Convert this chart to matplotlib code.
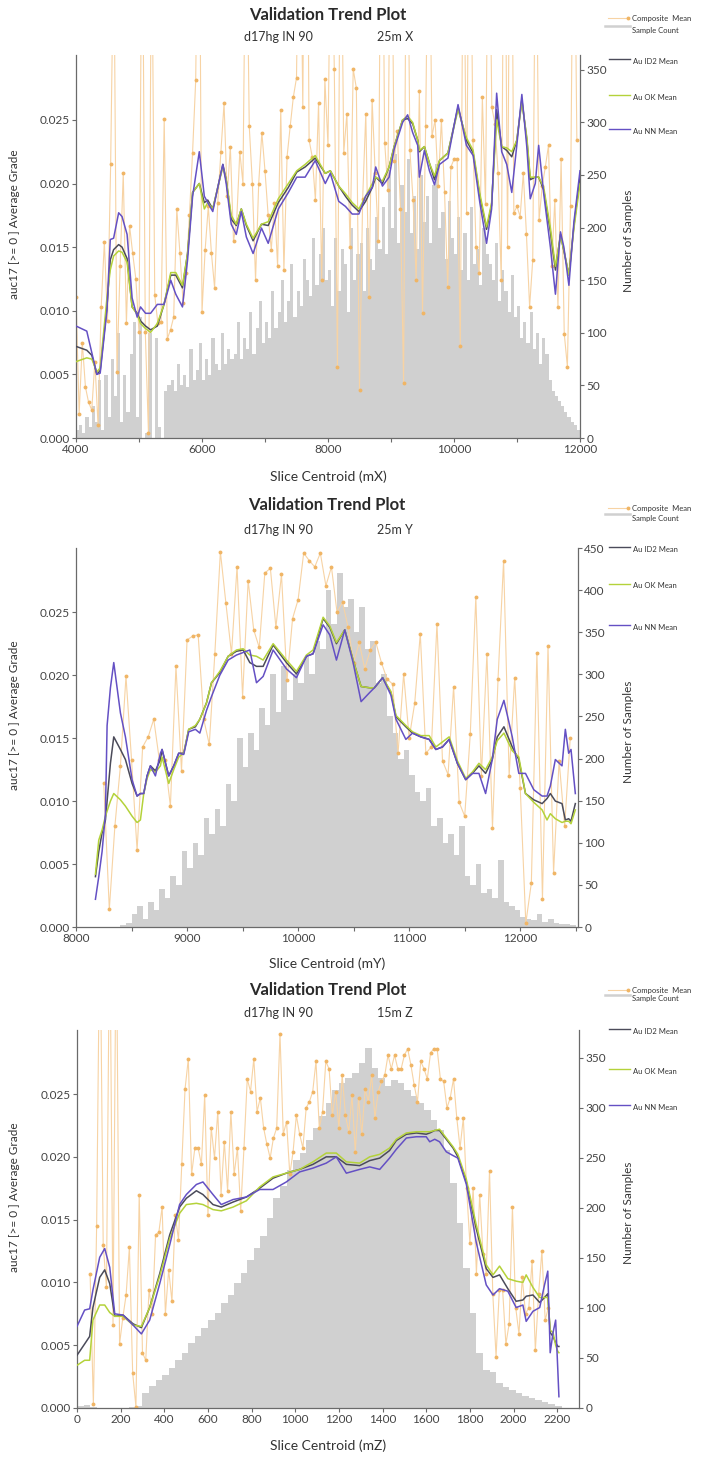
import numpy as np
import matplotlib
matplotlib.use("Agg")
import matplotlib.pyplot as plt
from matplotlib.lines import Line2D
from matplotlib.ticker import FormatStrFormatter, MultipleLocator

plt.rcParams['font.family'] = ['Lato', 'DejaVu Sans']

W, H = 706, 1457

# ---------------- Panel 1 (X) ----------------
p1_hist_start, p1_hist_step = 4000, 50
p1_hist = [8, 12, 5, 20, 10, 30, 15, 55, 8, 60,
           20, 75, 40, 100, 15, 60, 25, 80, 110, 20,
           115, 0, 5, 100, 0, 95, 10, 0, 45, 50,
           55, 45, 70, 50, 60, 48, 85, 55, 65, 90,
           55, 75, 60, 95, 70, 65, 100, 70, 85, 75,
           80, 110, 75, 95, 85, 120, 80, 105, 130, 90,
           110, 95, 140, 105, 120, 150, 110, 130, 165, 115,
           140, 125, 170, 150, 135, 190, 145, 175, 200, 150,
           160, 125, 190, 140, 180, 165, 120, 200, 150, 175,
           185, 140, 200, 170, 160, 210, 180, 220, 175, 255,
           200, 270, 185, 240, 215, 265, 195, 230, 180, 250,
           205, 230, 185, 240, 260, 200, 215, 170, 225, 190,
           175, 210, 160, 195, 150, 220, 165, 180, 145, 200,
           175, 165, 150, 185, 130, 160, 140, 120, 155, 115,
           125, 95, 110, 90, 120, 85, 100, 70, 95, 80,
           55, 45, 40, 35, 30, 25, 20, 15, 12, 8]
p1_comp_start, p1_comp_step = 4000, 50
p1_comp = [0.0111, 0.0019, 0.0075, 0.0040, 0.0028, 0.0022, 0.0060, 0.0010, 0.0103, 0.0154,
           0.0092, 0.0215, 0.0400, 0.0052, 0.0135, 0.0208, 0.0090, 0.0167, 0.0145, 0.0125,
           0.0083, 0.0450, 0.0083, 0.0004, 0.0420, 0.0112, 0.0090, 0.0091, 0.0251, 0.0078,
           0.0085, 0.0095, 0.0180, 0.0145, 0.0106, 0.0130, 0.0175, 0.0224, 0.0281, 0.0500,
           0.0099, 0.0148, 0.0182, 0.0145, 0.0118, 0.0185, 0.0225, 0.0263, 0.0190, 0.0229,
           0.0155, 0.0170, 0.0225, 0.0200, 0.0450, 0.0245, 0.0200, 0.0124, 0.0200, 0.0240,
           0.0210, 0.0175, 0.0148, 0.0185, 0.0135, 0.0258, 0.0132, 0.0221, 0.0245, 0.0268,
           0.0283, 0.0480, 0.0260, 0.0600, 0.0234, 0.0221, 0.0187, 0.0263, 0.0124, 0.0282,
           0.0230, 0.0440, 0.0290, 0.0056, 0.0460, 0.0224, 0.0255, 0.0150, 0.0290, 0.0275,
           0.0038, 0.0188, 0.0255, 0.0111, 0.0266, 0.0208, 0.0155, 0.0520, 0.0232, 0.0195,
           0.0470, 0.0218, 0.0241, 0.0180, 0.0043, 0.0500, 0.0226, 0.0187, 0.0124, 0.0273,
           0.0098, 0.0245, 0.0460, 0.0237, 0.0250, 0.0198, 0.0250, 0.0193, 0.0119, 0.0213,
           0.0219, 0.0219, 0.0072, 0.0440, 0.0177, 0.0500, 0.0234, 0.0150, 0.0130, 0.0268,
           0.0184, 0.0470, 0.0260, 0.0247, 0.0208, 0.0124, 0.0500, 0.0150, 0.0550, 0.0177,
           0.0182, 0.0174, 0.0208, 0.0160, 0.0103, 0.0140, 0.0450, 0.0171, 0.0198, 0.0213,
           0.0230, 0.0135, 0.0187, 0.0103, 0.0219, 0.0082, 0.0056, 0.0182, 0.0480, 0.0234]
p1_lx = [4000, 4171, 4251, 4331, 4384, 4491, 4544, 4597, 4677, 4731, 4811, 4891, 4971, 5024,
         5104, 5184, 5291, 5397, 5504, 5584, 5690, 5771, 5851, 5957, 6037, 6091, 6171, 6251,
         6331, 6384, 6464, 6544, 6624, 6704, 6811, 6944, 7051, 7211, 7371, 7504, 7637, 7797,
         7957, 8037, 8170, 8277, 8384, 8490, 8597, 8704, 8757, 8864, 8970, 9050, 9184, 9264,
         9344, 9424, 9450, 9530, 9610, 9690, 9770, 9904, 10064, 10197, 10304, 10410, 10517,
         10597, 10677, 10757, 10837, 10917, 10997, 11077, 11157, 11210, 11290, 11344, 11424,
         11530, 11610, 11690, 11744, 11824, 11904, 12000]
p1_id2 = [.0072, .0069, .0065, .0050, .0053, .0103, .0140, .0148, .0152, .0150, .0141, .0103, .0098, .0092,
          .0088, .0085, .0088, .0105, .0128, .0128, .0118, .0145, .0193, .0200, .0185, .0187, .0180, .0197,
          .0215, .0203, .0172, .0167, .0180, .0167, .0155, .0168, .0167, .0185, .0197, .0209, .0213, .0220,
          .0208, .0210, .0198, .0190, .0183, .0178, .0186, .0197, .0205, .0200, .0213, .0229, .0250, .0251,
          .0247, .0234, .0225, .0229, .0216, .0203, .0218, .0224, .0260, .0234, .0224, .0190, .0164,
          .0183, .0258, .0229, .0226, .0221, .0234, .0266, .0234, .0203, .0205, .0205, .0195,
          .0162, .0132, .0160, .0147, .0128, .0167, .0205]
p1_ok = [.0060, .0063, .0062, .0052, .0055, .0110, .0132, .0143, .0147, .0146, .0138, .0103, .0097, .0090,
         .0086, .0083, .0090, .0105, .0130, .0130, .0120, .0145, .0193, .0200, .0180, .0185, .0180, .0197,
         .0213, .0203, .0175, .0168, .0180, .0168, .0157, .0168, .0170, .0188, .0200, .0210, .0215, .0222,
         .0208, .0210, .0198, .0192, .0185, .0180, .0190, .0200, .0205, .0202, .0213, .0229, .0250, .0253,
         .0248, .0234, .0226, .0229, .0216, .0206, .0218, .0224, .0258, .0236, .0226, .0192, .0166,
         .0185, .0250, .0229, .0228, .0225, .0234, .0264, .0236, .0205, .0205, .0205, .0197,
         .0165, .0135, .0158, .0148, .0128, .0165, .0200]
p1_nn = [.0088, .0084, .0067, .0050, .0051, .0100, .0156, .0157, .0177, .0174, .0160, .0110, .0095, .0103,
         .0098, .0098, .0105, .0105, .0124, .0113, .0103, .0140, .0190, .0225, .0190, .0185, .0178, .0197,
         .0215, .0200, .0168, .0160, .0178, .0158, .0145, .0165, .0153, .0180, .0193, .0205, .0205, .0218,
         .0200, .0208, .0186, .0182, .0176, .0176, .0190, .0197, .0213, .0198, .0205, .0227, .0248, .0254,
         .0240, .0230, .0205, .0226, .0210, .0199, .0215, .0220, .0262, .0230, .0222, .0185, .0153,
         .0180, .0271, .0225, .0215, .0193, .0230, .0270, .0228, .0188, .0200, .0230, .0192,
         .0150, .0113, .0162, .0150, .0120, .0170, .0210]

# ---------------- Panel 2 (Y) ----------------
p2_hist_start, p2_hist_step = 8000, 50
p2_hist = [0, 0, 0, 0, 0, 0, 0, 0, 2, 5,
           15, 25, 10, 30, 20, 45, 35, 60, 50, 90,
           70, 100, 85, 130, 110, 140, 120, 170, 150, 225,
           190, 230, 210, 260, 240, 300, 255, 310, 270, 300,
           290, 320, 300, 340, 330, 400, 360, 420, 380, 390,
           350, 380, 330, 340, 290, 300, 250, 230, 200, 210,
           180, 160, 150, 165, 120, 130, 100, 110, 85, 120,
           60, 50, 75, 40, 45, 35, 80, 30, 25, 20,
           12, 10, 8, 15, 6, 10, 5, 4, 3, 2]
p2_comp_start, p2_comp_step = 8250, 50
p2_comp = [0.0114, 0.0014, 0.0080, 0.0128, 0.0199, 0.0133, 0.0061, 0.0143, 0.0151, 0.0165,
           0.0133, 0.0133, 0.0096, 0.0207, 0.0124, 0.0228, 0.0231, 0.0232, 0.0165, 0.0145,
           0.0217, 0.0298, 0.0257, 0.0217, 0.0286, 0.0183, 0.0275, 0.0236, 0.0222, 0.0281,
           0.0285, 0.0238, 0.0280, 0.0196, 0.0245, 0.0260, 0.0297, 0.0291, 0.0286, 0.0297,
           0.0271, 0.0286, 0.0250, 0.0258, 0.0238, 0.0210, 0.0226, 0.0205, 0.0220, 0.0226,
           0.0210, 0.0197, 0.0193, 0.0138, 0.0201, 0.0150, 0.0178, 0.0233, 0.0138, 0.0143,
           0.0241, 0.0132, 0.0121, 0.0191, 0.0099, 0.0088, 0.0153, 0.0262, 0.0120, 0.0217,
           0.0079, 0.0197, 0.0291, 0.0120, 0.0198, 0.0110, 0.0003, 0.0035, 0.0218, 0.0022,
           0.0223, 0.0043, 0.0132, 0.0080, 0.0150]
p2_lx = [8175, 8205, 8235, 8265, 8280, 8310, 8340, 8400, 8445, 8505, 8550, 8580, 8610, 8640, 8670,
         8715, 8760, 8775, 8835, 8880, 8925, 8970, 9015, 9075, 9115, 9175, 9220, 9295, 9370, 9445,
         9505, 9565, 9625, 9685, 9775, 9895, 9985, 10075, 10135, 10225, 10285, 10345, 10420, 10495,
         10567, 10642, 10687, 10761, 10836, 10881, 10970, 11030, 11105, 11180, 11240, 11300, 11360,
         11434, 11509, 11569, 11628, 11688, 11748, 11793, 11853, 11928, 11987, 12047, 12122, 12197,
         12241, 12271, 12316, 12376, 12406, 12436, 12457, 12496]
p2_id2 = [.0040, .0060, .0075, .0085, .0100, .0130, .0151, .0141, .0133, .0114, .0104, .0106, .0106, .0120, .0128,
          .0124, .0133, .0141, .0120, .0128, .0138, .0138, .0157, .0159, .0165, .0178, .0194, .0202, .0215, .0219,
          .0220, .0210, .0207, .0207, .0224, .0210, .0201, .0215, .0217, .0245, .0238, .0225, .0236, .0212,
          .0191, .0190, .0190, .0198, .0186, .0167, .0159, .0154, .0151, .0149, .0141, .0143, .0149,
          .0130, .0117, .0122, .0128, .0122, .0133, .0151, .0159, .0143, .0133, .0106, .0101, .0098,
          .0102, .0106, .0100, .0098, .0085, .0086, .0084, .0098]
p2_ok = [.0042, .0069, .0077, .0088, .0092, .0100, .0106, .0101, .0096, .0088, .0083, .0085, .0106, .0118, .0125,
         .0123, .0128, .0135, .0114, .0125, .0135, .0138, .0157, .0160, .0165, .0178, .0194, .0203, .0215, .0220,
         .0221, .0216, .0215, .0212, .0225, .0212, .0203, .0216, .0220, .0246, .0239, .0226, .0236, .0212,
         .0191, .0190, .0190, .0198, .0187, .0168, .0160, .0155, .0152, .0152, .0143, .0147, .0151,
         .0132, .0118, .0123, .0130, .0125, .0135, .0148, .0154, .0140, .0135, .0106, .0099, .0093,
         .0085, .0090, .0086, .0083, .0084, .0084, .0082, .0093]
p2_nn = [.0022, .0040, .0060, .0090, .0160, .0190, .0210, .0170, .0151, .0117, .0104, .0106, .0106, .0120, .0128,
         .0120, .0138, .0141, .0120, .0128, .0138, .0137, .0155, .0157, .0154, .0172, .0183, .0200, .0212, .0216,
         .0218, .0220, .0194, .0199, .0220, .0205, .0198, .0215, .0217, .0240, .0232, .0212, .0236, .0210,
         .0179, .0186, .0190, .0198, .0184, .0165, .0149, .0154, .0151, .0149, .0141, .0143, .0149,
         .0130, .0117, .0122, .0122, .0106, .0133, .0165, .0180, .0151, .0122, .0122, .0109, .0104,
         .0104, .0112, .0133, .0128, .0157, .0138, .0141, .0106]

# ---------------- Panel 3 (Z) ----------------
p3_hist_start, p3_hist_step = 0, 30
p3_hist = [2, 3, 1, 0, 0, 0, 0, 0, 1, 2,
           15, 22, 28, 33, 40, 48, 55, 65, 72, 80,
           88, 95, 105, 113, 125, 135, 148, 160, 172, 190,
           210, 222, 238, 248, 255, 268, 280, 292, 305, 318,
           325, 330, 335, 345, 360, 340, 330, 322, 328, 325,
           318, 312, 305, 298, 288, 278, 258, 225, 185, 140,
           95, 55, 38, 36, 25, 21, 18, 15, 12, 10,
           8, 6, 4, 2]
p3_comp_start, p3_comp_step = 60, 15
p3_comp = [0.0107, 0.0003, 0.0145, 0.0400, 0.0130, 0.0096, 0.0400, 0.0066, 0.0400, 0.0051,
           0.0072, 0.0090, 0.0128, 0.0028, 0.0001, 0.0170, 0.0044, 0.0038, 0.0094, 0.0075,
           0.0138, 0.0140, 0.0160, 0.0075, 0.0110, 0.0085, 0.0154, 0.0134, 0.0194, 0.0254,
           0.0278, 0.0186, 0.0207, 0.0207, 0.0194, 0.0249, 0.0154, 0.0223, 0.0199, 0.0236,
           0.0170, 0.0212, 0.0173, 0.0236, 0.0186, 0.0207, 0.0157, 0.0207, 0.0262, 0.0252,
           0.0278, 0.0236, 0.0247, 0.0223, 0.0210, 0.0199, 0.0215, 0.0223, 0.0298, 0.0218,
           0.0228, 0.0186, 0.0204, 0.0233, 0.0218, 0.0207, 0.0239, 0.0244, 0.0252, 0.0276,
           0.0223, 0.0236, 0.0276, 0.0270, 0.0233, 0.0252, 0.0223, 0.0265, 0.0233, 0.0220,
           0.0249, 0.0204, 0.0247, 0.0218, 0.0254, 0.0244, 0.0265, 0.0231, 0.0252, 0.0260,
           0.0265, 0.0281, 0.0270, 0.0281, 0.0270, 0.0270, 0.0281, 0.0286, 0.0273, 0.0257,
           0.0244, 0.0276, 0.0270, 0.0262, 0.0283, 0.0286, 0.0286, 0.0262, 0.0260, 0.0239,
           0.0247, 0.0262, 0.0231, 0.0207, 0.0231, 0.0175, 0.0131, 0.0175, 0.0107, 0.0170,
           0.0123, 0.0107, 0.0189, 0.0091, 0.0041, 0.0094, 0.0094, 0.0051, 0.0067, 0.0160,
           0.0080, 0.0059, 0.0104, 0.0075, 0.0080, 0.0117, 0.0046, 0.0091, 0.0125, 0.0070,
           0.0080]
p3_lx = [0, 35, 58, 73, 104, 127, 150, 173, 211, 257, 295, 333, 379, 425, 470, 501, 547, 577, 623,
         661, 715, 776, 837, 898, 959, 1020, 1081, 1142, 1188, 1234, 1295, 1341, 1387, 1432, 1463,
         1509, 1555, 1600, 1616, 1639, 1661, 1692, 1723, 1745, 1784, 1829, 1875, 1906, 1936, 1974,
         2012, 2043, 2058, 2089, 2120, 2142, 2157, 2168, 2181, 2193, 2203, 2208]
p3_id2 = [.0042, .0051, .0057, .0080, .0104, .0110, .0099, .0073, .0074, .0067, .0064, .0080, .0107, .0138,
          .0160, .0167, .0173, .0170, .0162, .0160, .0164, .0168, .0175, .0183, .0187, .0190, .0194, .0200,
          .0200, .0194, .0193, .0197, .0199, .0205, .0213, .0218, .0219, .0218, .0219, .0221, .0221, .0214,
          .0207, .0200, .0180, .0143, .0111, .0104, .0106, .0095, .0085, .0086, .0089, .0090, .0084, .0088,
          .0091, .0060, .0057, .0052, .0049, .0049]
p3_ok = [.0034, .0038, .0038, .0070, .0082, .0082, .0076, .0073, .0073, .0066, .0065, .0080, .0105, .0135,
         .0155, .0162, .0163, .0162, .0158, .0157, .0160, .0165, .0176, .0184, .0187, .0190, .0196, .0203,
         .0203, .0196, .0195, .0200, .0202, .0207, .0214, .0219, .0220, .0220, .0220, .0221, .0222, .0215,
         .0208, .0202, .0182, .0146, .0114, .0106, .0113, .0103, .0101, .0100, .0106, .0096, .0088, .0088,
         .0088, .0062, .0060, .0050, .0045, .0044]
p3_nn = [.0065, .0078, .0079, .0094, .0120, .0127, .0112, .0075, .0074, .0066, .0059, .0070, .0099, .0130,
         .0162, .0170, .0178, .0180, .0170, .0162, .0166, .0168, .0174, .0174, .0180, .0188, .0191, .0195,
         .0200, .0187, .0190, .0192, .0190, .0199, .0206, .0215, .0216, .0216, .0212, .0214, .0212, .0204,
         .0201, .0199, .0178, .0132, .0098, .0090, .0095, .0093, .0080, .0082, .0069, .0077, .0080, .0098,
         .0109, .0044, .0060, .0070, .0030, .0009]

fig = plt.figure(figsize=(W / 100, H / 100), dpi=100)

C_COMP_LINE = '#f7d3a4'
C_COMP_MARK = '#f0b565'
C_HIST = '#d0d0d0'
C_ID2 = '#4b4b5a'
C_OK = '#b4d23a'
C_NN = '#6450c4'
C_SPINE = '#6a6a6a'
C_TXT = '#333333'


def fx(x):
    return x / W


def fy(y):
    return 1 - y / H


def panel(box, xlim, xmaj, xmin, rtop, rticks, hist_start, hist_step, hist,
          comp_start, comp_step, comp, lx, id2, ok, nn,
          title_y, sub_y, dir_label, xlab, xlab_y, leg_ys):
    l, t, r, b = box
    ax = fig.add_axes([fx(l), fy(b), (r - l) / W, (b - t) / H])
    ax2 = ax.twinx()
    ax.set_zorder(ax2.get_zorder() + 1)
    ax.patch.set_visible(False)

    hx = hist_start + hist_step * np.arange(len(hist))
    ax2.bar(hx, hist, width=hist_step, align='edge', color=C_HIST, linewidth=0)
    cx = comp_start + comp_step * np.arange(len(comp))
    ax.plot(cx, comp, color=C_COMP_LINE, lw=0.8, marker='o', ms=2.8,
            mfc=C_COMP_MARK, mec='none', zorder=2)
    ax.plot(lx, id2, color=C_ID2, lw=1.1, zorder=3)
    ax.plot(lx, ok, color=C_OK, lw=1.1, zorder=4)
    ax.plot(lx, nn, color=C_NN, lw=1.1, zorder=5)

    ax.set_xlim(*xlim)
    ax.set_ylim(0, 0.0301)
    ax2.set_ylim(0, rtop)
    ax.set_yticks(np.arange(0, 0.0251, 0.005))
    ax.yaxis.set_major_formatter(FormatStrFormatter('%.3f'))
    ax2.set_yticks(rticks)
    ax.xaxis.set_major_locator(MultipleLocator(xmaj))
    if xmin:
        ax.xaxis.set_minor_locator(MultipleLocator(xmin))
    for a in (ax, ax2):
        a.spines['top'].set_visible(False)
        for s in a.spines.values():
            s.set_color(C_SPINE)
            s.set_linewidth(0.9)
        a.tick_params(which='both', colors=C_SPINE, labelcolor='#444444',
                      labelsize=8.5, length=3, width=0.8, pad=1.5)
    ax.tick_params(which='minor', length=3)
    ax.spines['right'].set_visible(False)
    ax2.spines['left'].set_visible(False)
    ax2.spines['bottom'].set_visible(False)

    cxm = (l + r) / 2
    fig.text(fx(cxm), fy(title_y), 'Validation Trend Plot', ha='center', va='center',
             fontsize=12, fontweight='bold', color='#2a2a2a')
    fig.text(fx(278), fy(sub_y), 'd17hg IN 90', ha='center', va='center', fontsize=9, color=C_TXT)
    fig.text(fx(395), fy(sub_y), dir_label, ha='center', va='center', fontsize=9, color=C_TXT)
    fig.text(fx(cxm), fy(xlab_y), xlab, ha='center', va='center', fontsize=10, color=C_TXT)
    fig.text(fx(15), fy((t + b) / 2 - 22), 'auc17 [>= 0 ] Average Grade', rotation=90,
             ha='center', va='center', fontsize=8.5, color=C_TXT)
    fig.text(fx(629), fy((t + b) / 2 - 6), 'Number of Samples', rotation=90,
             ha='center', va='center', fontsize=8.5, color=C_TXT)

    # legend (manual, outside right)
    yc, ys, yi, yo, yn = leg_ys
    fig.add_artist(Line2D([fx(608), fx(628)], [fy(yc), fy(yc)], color=C_COMP_LINE, lw=0.8,
                          marker='o', ms=2.8, mfc=C_COMP_MARK, mec='none', markevery=[1]))
    fig.text(fx(632), fy(yc), 'Composite  Mean', fontsize=5.5, va='center', color=C_TXT)
    fig.add_artist(Line2D([fx(605), fx(630)], [fy(ys - 4), fy(ys - 4)], color=C_HIST, lw=1.8))
    fig.text(fx(632), fy(ys), 'Sample Count', fontsize=5.5, va='center', color=C_TXT)
    for yy, col, lab in ((yi, C_ID2, 'Au ID2 Mean'), (yo, C_OK, 'Au OK Mean'), (yn, C_NN, 'Au NN Mean')):
        fig.add_artist(Line2D([fx(609), fx(630)], [fy(yy - 2), fy(yy - 2)], color=col, lw=1.0))
        fig.text(fx(633), fy(yy), lab, fontsize=5.5, va='center', color=C_TXT)
    return ax, ax2


panel((76, 55, 580, 438), (4000, 12000), 2000, 1000, 364, np.arange(0, 351, 50),
      p1_hist_start, p1_hist_step, p1_hist, p1_comp_start, p1_comp_step, p1_comp,
      p1_lx, p1_id2, p1_ok, p1_nn, 15, 37, '25m X', 'Slice Centroid (mX)', 477,
      (18, 30, 61, 97, 131))

panel((76, 548, 578, 927), (8000, 12520), 1000, 500, 450, np.arange(0, 451, 50),
      p2_hist_start, p2_hist_step, p2_hist, p2_comp_start, p2_comp_step, p2_comp,
      p2_lx, p2_id2, p2_ok, p2_nn, 505, 530, '25m Y', 'Slice Centroid (mY)', 964,
      (508, 518, 549, 586, 627))

panel((77, 1030, 579, 1408), (0, 2300), 200, None, 378, np.arange(0, 351, 50),
      p3_hist_start, p3_hist_step, p3_hist, p3_comp_start, p3_comp_step, p3_comp,
      p3_lx, p3_id2, p3_ok, p3_nn, 990, 1013, '15m Z', 'Slice Centroid (mZ)', 1446,
      (990, 999, 1031, 1071, 1107))

fig.savefig('out.png', dpi=100, facecolor='white')
